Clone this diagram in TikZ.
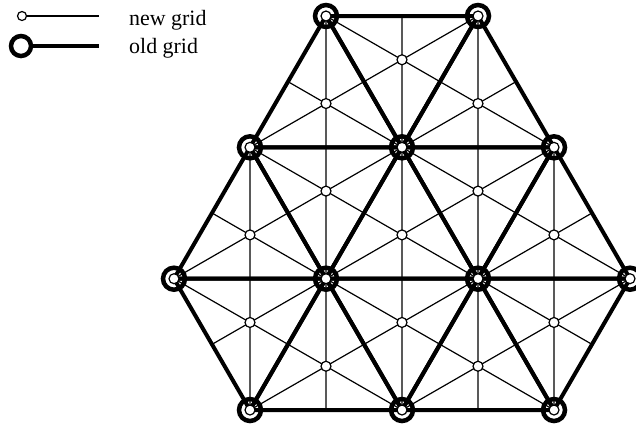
\documentclass[tikz,border=0pt]{standalone}
\usepackage{fontspec}
\setmainfont{Liberation Serif}
\usepackage{xcolor}
\definecolor{cMain}{HTML}{000000}
\usetikzlibrary{calc}
\tikzset{
  node-old/.style={circle,draw=cMain,line width=4.5bp,minimum size=22bp,inner sep=0pt},
  node-new/.style={circle,draw=cMain,fill=white,line width=1.2bp,minimum size=10bp,inner sep=0pt},
  edge-old/.style={draw=cMain,line width=4bp,line join=round},
  edge-new/.style={draw=cMain,line width=1.2bp},
  legend-text/.style={anchor=base west,inner sep=0pt,font=\fontsize{22}{24}\selectfont},
}

\begin{document}
\begin{tikzpicture}[x=1bp,y=-1bp]
  \useasboundingbox (0,0) rectangle (636,428);
  % old grid vertices, row by row
  \foreach \n/\x/\y in {a1/326/16, a2/478/16,
      b1/250/147.3, b2/402/147.3, b3/554/147.3,
      c1/174/278.7, c2/326/278.7, c3/478/278.7, c4/630/278.7,
      d1/250/410, d2/402/410, d3/554/410}
    \coordinate (\n) at (\x,\y);
  % medians of every old triangle = new grid lines
  \foreach \p/\q/\r in {a1/b1/b2, a2/b2/b3, a1/a2/b2, b1/c1/c2, b2/c2/c3,
      b3/c3/c4, b1/b2/c2, b2/b3/c3, c1/c2/d1, c2/c3/d2, c3/c4/d3, c2/d1/d2, c3/d2/d3}
    \draw[edge-new] (\p) -- ($(\q)!.5!(\r)$) (\q) -- ($(\p)!.5!(\r)$)
      (\r) -- ($(\p)!.5!(\q)$);
  \foreach \p/\q/\r in {a1/b1/b2, a2/b2/b3, a1/a2/b2, b1/c1/c2, b2/c2/c3,
      b3/c3/c4, b1/b2/c2, b2/b3/c3, c1/c2/d1, c2/c3/d2, c3/c4/d3, c2/d1/d2, c3/d2/d3}
    \draw[edge-old] (\p) -- (\q) -- (\r) -- cycle;
  % nodes
  \foreach \n in {a1,a2,b1,b2,b3,c1,c2,c3,c4,d1,d2,d3} {
    \node[node-old] (\n-old) at (\n) {};
    \node[node-new] (\n-new) at (\n) {};
  }
  \foreach \p/\q/\r in {a1/b1/b2, a2/b2/b3, a1/a2/b2, b1/c1/c2, b2/c2/c3,
      b3/c3/c4, b1/b2/c2, b2/b3/c3, c1/c2/d1, c2/c3/d2, c3/c4/d3, c2/d1/d2, c3/d2/d3}
    \node[node-new] (g-\p\q\r) at (barycentric cs:\p=1,\q=1,\r=1) {};
  % legend
  \node[node-new,minimum size=9bp] (ln) at (22,16) {};
  \coordinate (ln-end) at (99,16);
  \draw[edge-new] (ln) -- (ln-end);
  \node[legend-text] (ln-text) at (129,25) {new grid};
  \node[node-old,minimum size=20bp] (lo) at (21,46) {};
  \coordinate (lo-end) at (99,46);
  \draw[edge-old] (lo) -- (lo-end);
  \node[legend-text] (lo-text) at (129,53) {old grid};
\end{tikzpicture}
\end{document}
